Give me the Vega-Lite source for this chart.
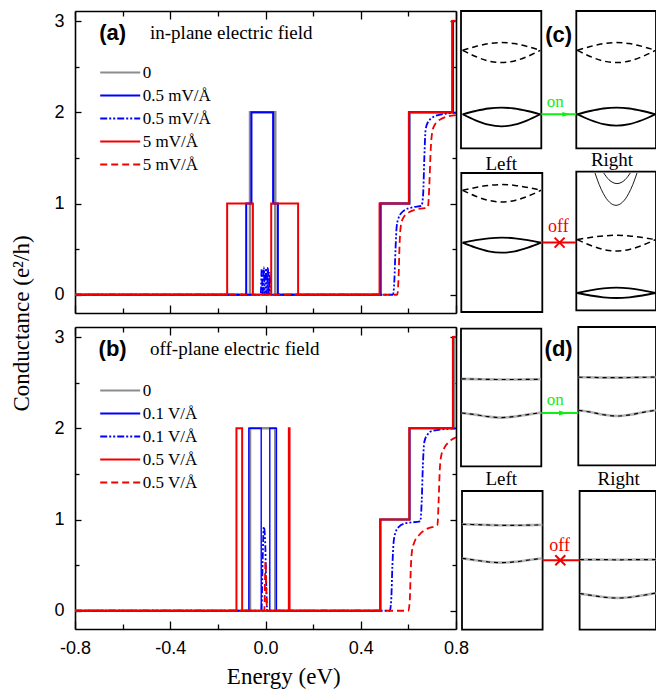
{
  "$schema": "https://vega.github.io/schema/vega-lite/v6.json",
  "background": "white",
  "padding": {"left": 10, "top": 10, "right": 0, "bottom": 0},
  "bounds": "flush",
  "columns": 2,
  "spacing": {"row": 14, "column": 5},
  "resolve": {"scale": {"color": "independent", "strokeDash": "independent"}, "legend": {"color": "independent", "strokeDash": "independent"}},
  "datasets": {
    "ga": [
      {"s":"a0","E":-0.8,"G":0},{"s":"a0","E":-0.065,"G":2},{"s":"a0","E":0.041,"G":0},{"s":"a0","E":0.483,"G":1},{"s":"a0","E":0.604,"G":2},{"s":"a0","E":0.787,"G":3},{"s":"a0","E":0.8,"G":3},
      {"s":"a1","E":-0.8,"G":0},{"s":"a1","E":-0.081,"G":1},{"s":"a1","E":-0.059,"G":2},{"s":"a1","E":0.032,"G":1},{"s":"a1","E":0.052,"G":0},{"s":"a1","E":0.483,"G":1},{"s":"a1","E":0.604,"G":2},{"s":"a1","E":0.787,"G":3},{"s":"a1","E":0.8,"G":3},
      {"s":"a2","E":-0.8,"G":0},{"s":"a2","E":-0.02,"G":0},{"s":"a2","E":-0.016,"G":0.28},{"s":"a2","E":-0.012,"G":0},{"s":"a2","E":-0.007,"G":0.3},{"s":"a2","E":-0.003,"G":0},{"s":"a2","E":0.002,"G":0.29},{"s":"a2","E":0.006,"G":0},{"s":"a2","E":0.01,"G":0.3},{"s":"a2","E":0.014,"G":0},{"s":"a2","E":0.018,"G":0.24},{"s":"a2","E":0.022,"G":0},{"s":"a2","E":0.535,"G":0},{"s":"a2","E":0.541,"G":0.15},{"s":"a2","E":0.546,"G":0.5},{"s":"a2","E":0.551,"G":0.75},{"s":"a2","E":0.56,"G":0.85},{"s":"a2","E":0.58,"G":0.92},{"s":"a2","E":0.62,"G":0.96},{"s":"a2","E":0.655,"G":0.975},{"s":"a2","E":0.662,"G":1.1},{"s":"a2","E":0.667,"G":1.5},{"s":"a2","E":0.672,"G":1.8},{"s":"a2","E":0.68,"G":1.88},{"s":"a2","E":0.7,"G":1.94},{"s":"a2","E":0.725,"G":1.97},{"s":"a2","E":0.8,"G":1.995},
      {"s":"a3","E":-0.8,"G":0},{"s":"a3","E":-0.161,"G":1},{"s":"a3","E":-0.053,"G":0},{"s":"a3","E":0.024,"G":1},{"s":"a3","E":0.137,"G":0},{"s":"a3","E":0.479,"G":1},{"s":"a3","E":0.602,"G":2},{"s":"a3","E":0.784,"G":3},{"s":"a3","E":0.8,"G":3},
      {"s":"a4","E":-0.8,"G":0},{"s":"a4","E":0.553,"G":0},{"s":"a4","E":0.559,"G":0.2},{"s":"a4","E":0.563,"G":0.55},{"s":"a4","E":0.568,"G":0.75},{"s":"a4","E":0.578,"G":0.84},{"s":"a4","E":0.6,"G":0.9},{"s":"a4","E":0.64,"G":0.94},{"s":"a4","E":0.682,"G":0.955},{"s":"a4","E":0.688,"G":1.2},{"s":"a4","E":0.694,"G":1.6},{"s":"a4","E":0.7,"G":1.78},{"s":"a4","E":0.71,"G":1.86},{"s":"a4","E":0.74,"G":1.93},{"s":"a4","E":0.8,"G":1.97}
    ],
    "gb": [
      {"s":"b0","E":-0.8,"G":0},{"s":"b0","E":-0.065,"G":2},{"s":"b0","E":0.041,"G":0},{"s":"b0","E":0.483,"G":1},{"s":"b0","E":0.604,"G":2},{"s":"b0","E":0.793,"G":3},{"s":"b0","E":0.8,"G":3},
      {"s":"b1","E":-0.8,"G":0},{"s":"b1","E":-0.07,"G":2},{"s":"b1","E":-0.018,"G":0},{"s":"b1","E":0.018,"G":2},{"s":"b1","E":0.046,"G":0},{"s":"b1","E":0.483,"G":1},{"s":"b1","E":0.606,"G":2},{"s":"b1","E":0.787,"G":3},{"s":"b1","E":0.8,"G":3},
      {"s":"b2","E":-0.8,"G":0},{"s":"b2","E":-0.017,"G":0},{"s":"b2","E":-0.012,"G":0.55},{"s":"b2","E":-0.007,"G":0.92},{"s":"b2","E":-0.002,"G":0.8},{"s":"b2","E":0.003,"G":0.3},{"s":"b2","E":0.007,"G":0},{"s":"b2","E":0.522,"G":0},{"s":"b2","E":0.528,"G":0.12},{"s":"b2","E":0.533,"G":0.5},{"s":"b2","E":0.538,"G":0.75},{"s":"b2","E":0.545,"G":0.85},{"s":"b2","E":0.56,"G":0.92},{"s":"b2","E":0.59,"G":0.96},{"s":"b2","E":0.65,"G":0.98},{"s":"b2","E":0.656,"G":1.2},{"s":"b2","E":0.661,"G":1.6},{"s":"b2","E":0.667,"G":1.85},{"s":"b2","E":0.68,"G":1.93},{"s":"b2","E":0.7,"G":1.97},{"s":"b2","E":0.8,"G":2.0},
      {"s":"b3","E":-0.8,"G":0},{"s":"b3","E":-0.122,"G":2},{"s":"b3","E":-0.098,"G":0},{"s":"b3","E":0.098,"G":2},{"s":"b3","E":0.101,"G":0},{"s":"b3","E":0.481,"G":1},{"s":"b3","E":0.604,"G":2},{"s":"b3","E":0.787,"G":3},{"s":"b3","E":0.8,"G":3},
      {"s":"b4","E":-0.8,"G":0},{"s":"b4","E":-0.005,"G":0},{"s":"b4","E":-0.002,"G":0.35},{"s":"b4","E":0.0,"G":0.54},{"s":"b4","E":0.003,"G":0.3},{"s":"b4","E":0.006,"G":0},{"s":"b4","E":0.6,"G":0},{"s":"b4","E":0.606,"G":0.12},{"s":"b4","E":0.61,"G":0.45},{"s":"b4","E":0.615,"G":0.65},{"s":"b4","E":0.625,"G":0.75},{"s":"b4","E":0.645,"G":0.83},{"s":"b4","E":0.68,"G":0.9},{"s":"b4","E":0.722,"G":0.94},{"s":"b4","E":0.727,"G":1.2},{"s":"b4","E":0.732,"G":1.55},{"s":"b4","E":0.738,"G":1.7},{"s":"b4","E":0.75,"G":1.78},{"s":"b4","E":0.77,"G":1.85},{"s":"b4","E":0.8,"G":1.9}
    ],
    "boxC": [
      {"x":0,"x2":80.3,"y":0,"y2":137.3},{"x":115.3,"x2":195,"y":0,"y2":137.3},
      {"x":0.3,"x2":81.3,"y":162,"y2":301},{"x":115.3,"x2":195,"y":160.6,"y2":299.3}
    ],
    "bandC": [
      {"c":"c1","k":"dashed","x":1.6,"y":39.3},{"c":"c1","k":"dashed","x":14.6,"y":35.5},{"c":"c1","k":"dashed","x":27.5,"y":32.6},{"c":"c1","k":"dashed","x":40.5,"y":31.6},{"c":"c1","k":"dashed","x":53.4,"y":32.6},{"c":"c1","k":"dashed","x":66.4,"y":35.5},{"c":"c1","k":"dashed","x":79.3,"y":39.3},
      {"c":"c2","k":"dashed","x":1.6,"y":39.3},{"c":"c2","k":"dashed","x":14.6,"y":45.5},{"c":"c2","k":"dashed","x":27.5,"y":50.0},{"c":"c2","k":"dashed","x":40.5,"y":51.6},{"c":"c2","k":"dashed","x":53.4,"y":50.0},{"c":"c2","k":"dashed","x":66.4,"y":45.5},{"c":"c2","k":"dashed","x":79.3,"y":39.3},
      {"c":"c3","k":"solid","x":1.6,"y":103.3},{"c":"c3","k":"solid","x":14.6,"y":100.0},{"c":"c3","k":"solid","x":27.5,"y":97.5},{"c":"c3","k":"solid","x":40.5,"y":96.6},{"c":"c3","k":"solid","x":53.4,"y":97.5},{"c":"c3","k":"solid","x":66.4,"y":100.0},{"c":"c3","k":"solid","x":79.3,"y":103.3},
      {"c":"c4","k":"solid","x":1.6,"y":103.3},{"c":"c4","k":"solid","x":14.6,"y":109.3},{"c":"c4","k":"solid","x":27.5,"y":113.7},{"c":"c4","k":"solid","x":40.5,"y":115.3},{"c":"c4","k":"solid","x":53.4,"y":113.7},{"c":"c4","k":"solid","x":66.4,"y":109.3},{"c":"c4","k":"solid","x":79.3,"y":103.3},
      {"c":"c5","k":"dashed","x":116.3,"y":39.3},{"c":"c5","k":"dashed","x":129.3,"y":35.5},{"c":"c5","k":"dashed","x":142.4,"y":32.6},{"c":"c5","k":"dashed","x":155.4,"y":31.6},{"c":"c5","k":"dashed","x":168.4,"y":32.6},{"c":"c5","k":"dashed","x":181.5,"y":35.5},{"c":"c5","k":"dashed","x":194.5,"y":39.3},
      {"c":"c6","k":"dashed","x":116.3,"y":39.3},{"c":"c6","k":"dashed","x":129.3,"y":45.5},{"c":"c6","k":"dashed","x":142.4,"y":50.0},{"c":"c6","k":"dashed","x":155.4,"y":51.6},{"c":"c6","k":"dashed","x":168.4,"y":50.0},{"c":"c6","k":"dashed","x":181.5,"y":45.5},{"c":"c6","k":"dashed","x":194.5,"y":39.3},
      {"c":"c7","k":"solid","x":116.3,"y":103.3},{"c":"c7","k":"solid","x":129.3,"y":100.0},{"c":"c7","k":"solid","x":142.4,"y":97.5},{"c":"c7","k":"solid","x":155.4,"y":96.6},{"c":"c7","k":"solid","x":168.4,"y":97.5},{"c":"c7","k":"solid","x":181.5,"y":100.0},{"c":"c7","k":"solid","x":194.5,"y":103.3},
      {"c":"c8","k":"solid","x":116.3,"y":103.3},{"c":"c8","k":"solid","x":129.3,"y":109.0},{"c":"c8","k":"solid","x":142.4,"y":113.1},{"c":"c8","k":"solid","x":155.4,"y":114.6},{"c":"c8","k":"solid","x":168.4,"y":113.1},{"c":"c8","k":"solid","x":181.5,"y":109.0},{"c":"c8","k":"solid","x":194.5,"y":103.3},
      {"c":"c9","k":"dashed","x":1.6,"y":179.3},{"c":"c9","k":"dashed","x":14.7,"y":176.5},{"c":"c9","k":"dashed","x":27.7,"y":174.4},{"c":"c9","k":"dashed","x":40.8,"y":173.6},{"c":"c9","k":"dashed","x":53.9,"y":174.4},{"c":"c9","k":"dashed","x":66.9,"y":176.5},{"c":"c9","k":"dashed","x":80.0,"y":179.3},
      {"c":"c10","k":"dashed","x":1.6,"y":179.3},{"c":"c10","k":"dashed","x":14.7,"y":185.2},{"c":"c10","k":"dashed","x":27.7,"y":189.4},{"c":"c10","k":"dashed","x":40.8,"y":191.0},{"c":"c10","k":"dashed","x":53.9,"y":189.4},{"c":"c10","k":"dashed","x":66.9,"y":185.2},{"c":"c10","k":"dashed","x":80.0,"y":179.3},
      {"c":"c11","k":"solid","x":1.6,"y":231.6},{"c":"c11","k":"solid","x":14.7,"y":229.1},{"c":"c11","k":"solid","x":27.7,"y":227.3},{"c":"c11","k":"solid","x":40.8,"y":226.6},{"c":"c11","k":"solid","x":53.9,"y":227.3},{"c":"c11","k":"solid","x":66.9,"y":229.1},{"c":"c11","k":"solid","x":80.0,"y":231.6},
      {"c":"c12","k":"solid","x":1.6,"y":231.6},{"c":"c12","k":"solid","x":14.7,"y":236.6},{"c":"c12","k":"solid","x":27.7,"y":240.3},{"c":"c12","k":"solid","x":40.8,"y":241.6},{"c":"c12","k":"solid","x":53.9,"y":240.3},{"c":"c12","k":"solid","x":66.9,"y":236.6},{"c":"c12","k":"solid","x":80.0,"y":231.6},
      {"c":"c13","k":"dashed","x":116.3,"y":228.6},{"c":"c13","k":"dashed","x":129.3,"y":226.5},{"c":"c13","k":"dashed","x":142.4,"y":224.9},{"c":"c13","k":"dashed","x":155.4,"y":224.3},{"c":"c13","k":"dashed","x":168.4,"y":224.9},{"c":"c13","k":"dashed","x":181.5,"y":226.5},{"c":"c13","k":"dashed","x":194.5,"y":228.6},
      {"c":"c14","k":"dashed","x":116.3,"y":228.6},{"c":"c14","k":"dashed","x":129.3,"y":234.3},{"c":"c14","k":"dashed","x":142.4,"y":238.5},{"c":"c14","k":"dashed","x":155.4,"y":240.0},{"c":"c14","k":"dashed","x":168.4,"y":238.5},{"c":"c14","k":"dashed","x":181.5,"y":234.3},{"c":"c14","k":"dashed","x":194.5,"y":228.6},
      {"c":"c15","k":"solid","x":116.3,"y":282.0},{"c":"c15","k":"solid","x":129.3,"y":279.3},{"c":"c15","k":"solid","x":142.4,"y":277.4},{"c":"c15","k":"solid","x":155.4,"y":276.7},{"c":"c15","k":"solid","x":168.4,"y":277.4},{"c":"c15","k":"solid","x":181.5,"y":279.3},{"c":"c15","k":"solid","x":194.5,"y":282.0},
      {"c":"c16","k":"solid","x":116.3,"y":282.0},{"c":"c16","k":"solid","x":129.3,"y":284.5},{"c":"c16","k":"solid","x":142.4,"y":286.3},{"c":"c16","k":"solid","x":155.4,"y":287.0},{"c":"c16","k":"solid","x":168.4,"y":286.3},{"c":"c16","k":"solid","x":181.5,"y":284.5},{"c":"c16","k":"solid","x":194.5,"y":282.0},
      {"c":"c17","k":"thin","x":134.0,"y":162.0},{"c":"c17","k":"thin","x":138.2,"y":173.6},{"c":"c17","k":"thin","x":142.4,"y":182.7},{"c":"c17","k":"thin","x":148.7,"y":191.4},{"c":"c17","k":"thin","x":155.0,"y":194.3},{"c":"c17","k":"thin","x":161.3,"y":191.4},{"c":"c17","k":"thin","x":167.6,"y":182.7},{"c":"c17","k":"thin","x":171.8,"y":173.6},{"c":"c17","k":"thin","x":176.0,"y":162.0},
      {"c":"c18","k":"thin","x":142.7,"y":162.0},{"c":"c18","k":"thin","x":145.4,"y":165.8},{"c":"c18","k":"thin","x":148.0,"y":168.8},{"c":"c18","k":"thin","x":152.0,"y":171.6},{"c":"c18","k":"thin","x":156.0,"y":172.6},{"c":"c18","k":"thin","x":160.0,"y":171.6},{"c":"c18","k":"thin","x":164.0,"y":168.8},{"c":"c18","k":"thin","x":166.6,"y":165.8},{"c":"c18","k":"thin","x":169.3,"y":162.0}
    ],
    "linkC": [
      {"t":"on","x":80.3,"x2":115.3,"y":103.3},
      {"t":"off","x":81.3,"x2":115.3,"y":231.6}
    ],
    "boxD": [
      {"x":0,"x2":80.3,"y":1.6,"y2":139.3},{"x":117.3,"x2":195,"y":0,"y2":138.3},
      {"x":1,"x2":81.6,"y":164,"y2":302.6},{"x":118.6,"x2":195,"y":164,"y2":302.6}
    ],
    "bandD": [
      {"c":"d1","x":0.7,"y":51.8},{"c":"d1","x":13.9,"y":52.1},{"c":"d1","x":27.1,"y":52.4},{"c":"d1","x":40.2,"y":52.5},{"c":"d1","x":53.4,"y":52.5},{"c":"d1","x":66.6,"y":52.4},{"c":"d1","x":79.6,"y":52.3},
      {"c":"d2","x":0.7,"y":86.0},{"c":"d2","x":13.9,"y":87.6},{"c":"d2","x":27.1,"y":89.6},{"c":"d2","x":40.2,"y":90.6},{"c":"d2","x":53.4,"y":89.6},{"c":"d2","x":66.6,"y":87.6},{"c":"d2","x":79.6,"y":85.6},
      {"c":"d3","x":117.6,"y":50.2},{"c":"d3","x":130.5,"y":50.4},{"c":"d3","x":143.3,"y":50.6},{"c":"d3","x":156.2,"y":50.6},{"c":"d3","x":169.0,"y":50.5},{"c":"d3","x":181.9,"y":50.3},{"c":"d3","x":194.7,"y":50.1},
      {"c":"d4","x":117.6,"y":83.3},{"c":"d4","x":130.5,"y":85.3},{"c":"d4","x":143.3,"y":87.8},{"c":"d4","x":156.2,"y":89.0},{"c":"d4","x":169.0,"y":87.8},{"c":"d4","x":181.9,"y":85.3},{"c":"d4","x":194.7,"y":83.3},
      {"c":"d5","x":1.3,"y":197.3},{"c":"d5","x":14.6,"y":197.6},{"c":"d5","x":28.0,"y":198.0},{"c":"d5","x":41.3,"y":198.3},{"c":"d5","x":54.6,"y":198.3},{"c":"d5","x":68.0,"y":198.1},{"c":"d5","x":81.3,"y":197.9},
      {"c":"d6","x":1.3,"y":231.3},{"c":"d6","x":14.6,"y":233.2},{"c":"d6","x":28.0,"y":235.0},{"c":"d6","x":41.3,"y":235.6},{"c":"d6","x":54.6,"y":234.8},{"c":"d6","x":68.0,"y":233.0},{"c":"d6","x":81.3,"y":231.3},
      {"c":"d7","x":118.9,"y":232.6},{"c":"d7","x":131.5,"y":232.6},{"c":"d7","x":144.2,"y":232.7},{"c":"d7","x":156.8,"y":232.8},{"c":"d7","x":169.4,"y":232.7},{"c":"d7","x":182.1,"y":232.6},{"c":"d7","x":194.7,"y":232.6},
      {"c":"d8","x":118.9,"y":266.6},{"c":"d8","x":131.5,"y":268.5},{"c":"d8","x":144.2,"y":270.3},{"c":"d8","x":156.8,"y":271.0},{"c":"d8","x":169.4,"y":270.2},{"c":"d8","x":182.1,"y":268.3},{"c":"d8","x":194.7,"y":266.0}
    ],
    "linkD": [
      {"t":"on","x":80.3,"x2":117.3,"y":86},
      {"t":"off","x":81.6,"x2":118.6,"y":233.3}
    ]
  },
  "concat": [
    {
      "width": 381,
      "height": 302,
      "data": {"name": "ga"},
      "encoding": {
        "x": {"field": "E", "type": "quantitative", "scale": {"domain": [-0.8, 0.8], "nice": false, "zero": false}, "axis": null},
        "y": {"field": "G", "type": "quantitative", "scale": {"domain": [-0.2, 3.11], "nice": false, "zero": false}, "axis": null},
        "color": {"field": "s", "type": "nominal",
          "scale": {"domain": ["a0","a1","a2","a3","a4"], "range": ["#8c8c8c","#0000ff","#0000ff","#f00000","#f00000"]},
          "legend": {"title": null, "orient": "none", "legendX": 36.7, "legendY": 53, "padding": 0, "symbolType": "M-4,0H4", "symbolSize": 100, "symbolStrokeWidth": 2, "labelFont": "Liberation Serif", "labelFontSize": 17, "labelColor": "black", "labelOffset": 14, "rowPadding": 5,
            "labelExpr": "datum.value == 'a0' ? '0' : (datum.value == 'a1' || datum.value == 'a2') ? '0.5 mV/Å' : '5 mV/Å'"}},
        "strokeDash": {"field": "s", "type": "nominal",
          "scale": {"domain": ["a0","a1","a2","a3","a4"], "range": [[1,0],[1,0],[7,2,2,2,2,2],[1,0],[7,4]]},
          "legend": {"title": null, "orient": "none", "legendX": 36.7, "legendY": 53, "padding": 0, "symbolType": "M-4,0H4", "symbolSize": 100, "symbolStrokeWidth": 2, "labelFont": "Liberation Serif", "labelFontSize": 17, "labelColor": "black", "labelOffset": 14, "rowPadding": 5,
            "labelExpr": "datum.value == 'a0' ? '0' : (datum.value == 'a1' || datum.value == 'a2') ? '0.5 mV/Å' : '5 mV/Å'"}}
      },
      "layer": [
        {
          "transform": [{"filter": "datum.s == 'a0'"}],
          "mark": {"type": "line", "interpolate": "step-after", "strokeWidth": 2.5},
          "encoding": {
            "x": {"field": "E", "type": "quantitative", "scale": {"domain": [-0.8, 0.8], "nice": false, "zero": false},
              "axis": {"orient": "bottom", "values": [-0.8, -0.4, 0, 0.4, 0.8], "tickSize": -8, "labels": false, "title": null, "domain": true}},
            "y": {"field": "G", "type": "quantitative", "scale": {"domain": [-0.2, 3.11], "nice": false, "zero": false},
              "axis": {"orient": "left", "values": [0, 1, 2, 3], "format": "d", "tickSize": -6, "labelPadding": 17, "labelFlush": false, "labelOverlap": false, "domain": true,
                "title": "Conductance (e²/h)", "titleX": -46.5, "titleY": 312, "titleAngle": 270, "titleAlign": "center", "titleBaseline": "alphabetic"}}
          }
        },
        {
          "transform": [{"filter": "datum.s == 'a1'"}],
          "mark": {"type": "line", "interpolate": "step-after", "strokeWidth": 2},
          "encoding": {
            "x": {"field": "E", "type": "quantitative", "scale": {"domain": [-0.8, 0.8], "nice": false, "zero": false},
              "axis": {"orient": "bottom", "values": [-0.6, -0.2, 0.2, 0.6], "tickSize": -5, "labels": false, "title": null, "domain": false}},
            "y": {"field": "G", "type": "quantitative", "scale": {"domain": [-0.2, 3.11], "nice": false, "zero": false},
              "axis": {"orient": "left", "values": [0.5, 1.5, 2.5], "tickSize": -4, "labels": false, "title": null, "domain": false}}
          }
        },
        {
          "transform": [{"filter": "datum.s == 'a2'"}],
          "mark": {"type": "line", "interpolate": "monotone", "strokeWidth": 1.8},
          "encoding": {
            "x": {"field": "E", "type": "quantitative", "scale": {"domain": [-0.8, 0.8], "nice": false, "zero": false},
              "axis": {"orient": "top", "values": [-0.8, -0.4, 0, 0.4, 0.8], "tickSize": -8, "labels": false, "title": null, "domain": true}},
            "y": {"field": "G", "type": "quantitative", "scale": {"domain": [-0.2, 3.11], "nice": false, "zero": false},
              "axis": {"orient": "right", "values": [0, 1, 2, 3], "tickSize": -6, "labels": false, "title": null, "domain": true}}
          }
        },
        {
          "transform": [{"filter": "datum.s == 'a3'"}],
          "mark": {"type": "line", "interpolate": "step-after", "strokeWidth": 2},
          "encoding": {
            "x": {"field": "E", "type": "quantitative", "scale": {"domain": [-0.8, 0.8], "nice": false, "zero": false},
              "axis": {"orient": "top", "values": [-0.6, -0.2, 0.2, 0.6], "tickSize": -5, "labels": false, "title": null, "domain": false}},
            "y": {"field": "G", "type": "quantitative", "scale": {"domain": [-0.2, 3.11], "nice": false, "zero": false},
              "axis": {"orient": "right", "values": [0.5, 1.5, 2.5], "tickSize": -4, "labels": false, "title": null, "domain": false}}
          }
        },
        {
          "transform": [{"filter": "datum.s == 'a4'"}],
          "mark": {"type": "line", "interpolate": "monotone", "strokeWidth": 1.8}
        },
        {
          "data": {"values": [{"E": -0.642, "G": 2.866, "t": "(a)"}]},
          "mark": {"type": "text", "font": "Liberation Sans", "fontWeight": "bold", "fontSize": 22, "align": "center", "baseline": "middle"},
          "encoding": {"text": {"field": "t"}, "color": {"value": "black"}, "strokeDash": {"value": [1, 0]}}
        },
        {
          "data": {"values": [{"E": -0.485, "G": 2.866, "t": "in-plane electric field"}]},
          "mark": {"type": "text", "font": "Liberation Serif", "fontSize": 19, "align": "left", "baseline": "middle"},
          "encoding": {"text": {"field": "t"}, "color": {"value": "black"}, "strokeDash": {"value": [1, 0]}}
        }
      ],
      "resolve": {"axis": {"x": "independent", "y": "independent"}}
    },
    {
      "width": 195,
      "height": 302,
      "encoding": {
        "x": {"field": "x", "type": "quantitative", "scale": {"domain": [0, 195], "nice": false, "zero": false}, "axis": null},
        "y": {"field": "y", "type": "quantitative", "scale": {"domain": [0, 302], "nice": false, "zero": false, "reverse": true}, "axis": null}
      },
      "layer": [
        {"data": {"name": "boxC"}, "mark": {"type": "rect", "filled": false, "color": "black", "stroke": "black", "strokeWidth": 1.8},
          "encoding": {"x2": {"field": "x2"}, "y2": {"field": "y2"}}},
        {"data": {"name": "bandC"}, "transform": [{"filter": "datum.k == 'dashed'"}],
          "mark": {"type": "line", "interpolate": "monotone", "color": "black", "strokeWidth": 1.5, "strokeDash": [6, 4]},
          "encoding": {"detail": {"field": "c"}}},
        {"data": {"name": "bandC"}, "transform": [{"filter": "datum.k == 'solid'"}],
          "mark": {"type": "line", "interpolate": "monotone", "color": "black", "strokeWidth": 1.8},
          "encoding": {"detail": {"field": "c"}}},
        {"data": {"name": "bandC"}, "transform": [{"filter": "datum.k == 'thin'"}],
          "mark": {"type": "line", "interpolate": "monotone", "color": "black", "strokeWidth": 0.9},
          "encoding": {"detail": {"field": "c"}}},
        {"data": {"name": "linkC"}, "transform": [{"filter": "datum.t == 'on'"}],
          "mark": {"type": "rule", "color": "#11ee11", "strokeWidth": 2},
          "encoding": {"x2": {"field": "x2"}}},
        {"data": {"name": "linkC"}, "transform": [{"filter": "datum.t == 'off'"}],
          "mark": {"type": "rule", "color": "#f00000", "strokeWidth": 2},
          "encoding": {"x2": {"field": "x2"}}},
        {"data": {"values": [{"x": 105.3, "y": 103.3}]},
          "mark": {"type": "point", "shape": "M-1,-0.6L1,0L-1,0.6Z", "filled": true, "color": "#11ee11", "size": 64, "opacity": 1},
          "encoding": {}},
        {"data": {"values": [{"x": 98.6, "y": 231.6}]},
          "mark": {"type": "point", "shape": "M-1,-1L1,1M-1,1L1,-1", "filled": false, "color": "#f00000", "strokeWidth": 2, "size": 100, "opacity": 1},
          "encoding": {}},
        {"data": {"values": [{"x": 97.6, "y": 24.3, "t": "(c)"}]},
          "mark": {"type": "text", "font": "Liberation Sans", "fontWeight": "bold", "fontSize": 22, "align": "center", "baseline": "middle", "color": "black"},
          "encoding": {"text": {"field": "t"}}},
        {"data": {"values": [{"x": 94.3, "y": 91, "t": "on"}]},
          "mark": {"type": "text", "font": "Liberation Serif", "fontSize": 17, "align": "center", "baseline": "middle", "color": "#11ee11"},
          "encoding": {"text": {"field": "t"}}},
        {"data": {"values": [{"x": 97.3, "y": 216, "t": "off"}]},
          "mark": {"type": "text", "font": "Liberation Serif", "fontSize": 18, "align": "center", "baseline": "middle", "color": "#f00000"},
          "encoding": {"text": {"field": "t"}}},
        {"data": {"values": [{"x": 40.3, "y": 152.6, "t": "Left"}, {"x": 151, "y": 149.3, "t": "Right"}]},
          "mark": {"type": "text", "font": "Liberation Serif", "fontSize": 19, "align": "center", "baseline": "middle", "color": "black"},
          "encoding": {"text": {"field": "t"}}}
      ]
    },
    {
      "width": 381,
      "height": 302,
      "data": {"name": "gb"},
      "encoding": {
        "x": {"field": "E", "type": "quantitative", "scale": {"domain": [-0.8, 0.8], "nice": false, "zero": false}, "axis": null},
        "y": {"field": "G", "type": "quantitative", "scale": {"domain": [-0.2, 3.11], "nice": false, "zero": false}, "axis": null},
        "color": {"field": "s", "type": "nominal",
          "scale": {"domain": ["b0","b1","b2","b3","b4"], "range": ["#8c8c8c","#0000ff","#0000ff","#f00000","#f00000"]},
          "legend": {"title": null, "orient": "none", "legendX": 36.7, "legendY": 55, "padding": 0, "symbolType": "M-4,0H4", "symbolSize": 100, "symbolStrokeWidth": 2, "labelFont": "Liberation Serif", "labelFontSize": 17, "labelColor": "black", "labelOffset": 14, "rowPadding": 5,
            "labelExpr": "datum.value == 'b0' ? '0' : (datum.value == 'b1' || datum.value == 'b2') ? '0.1 V/Å' : '0.5 V/Å'"}},
        "strokeDash": {"field": "s", "type": "nominal",
          "scale": {"domain": ["b0","b1","b2","b3","b4"], "range": [[1,0],[1,0],[7,2,2,2,2,2],[1,0],[7,4]]},
          "legend": {"title": null, "orient": "none", "legendX": 36.7, "legendY": 55, "padding": 0, "symbolType": "M-4,0H4", "symbolSize": 100, "symbolStrokeWidth": 2, "labelFont": "Liberation Serif", "labelFontSize": 17, "labelColor": "black", "labelOffset": 14, "rowPadding": 5,
            "labelExpr": "datum.value == 'b0' ? '0' : (datum.value == 'b1' || datum.value == 'b2') ? '0.1 V/Å' : '0.5 V/Å'"}}
      },
      "layer": [
        {
          "transform": [{"filter": "datum.s == 'b0'"}],
          "mark": {"type": "line", "interpolate": "step-after", "strokeWidth": 2.5},
          "encoding": {
            "x": {"field": "E", "type": "quantitative", "scale": {"domain": [-0.8, 0.8], "nice": false, "zero": false},
              "axis": {"orient": "bottom", "values": [-0.8, -0.4, 0, 0.4, 0.8], "format": ".1f", "labelExpr": "replace(datum.label, '\u2212', '-')", "tickSize": -8, "labelPadding": 18, "labelFlush": false, "labelOverlap": false, "domain": true,
                "title": "Energy (eV)", "titleX": 208.3, "titleY": 54.3, "titleAlign": "center", "titleBaseline": "alphabetic"}},
            "y": {"field": "G", "type": "quantitative", "scale": {"domain": [-0.2, 3.11], "nice": false, "zero": false},
              "axis": {"orient": "left", "values": [0, 1, 2, 3], "format": "d", "tickSize": -6, "labelPadding": 17, "labelFlush": false, "labelOverlap": false, "domain": true, "title": null}}
          }
        },
        {
          "transform": [{"filter": "datum.s == 'b1'"}],
          "mark": {"type": "line", "interpolate": "step-after", "strokeWidth": 1.4},
          "encoding": {
            "x": {"field": "E", "type": "quantitative", "scale": {"domain": [-0.8, 0.8], "nice": false, "zero": false},
              "axis": {"orient": "bottom", "values": [-0.6, -0.2, 0.2, 0.6], "tickSize": -5, "labels": false, "title": null, "domain": false}},
            "y": {"field": "G", "type": "quantitative", "scale": {"domain": [-0.2, 3.11], "nice": false, "zero": false},
              "axis": {"orient": "left", "values": [0.5, 1.5, 2.5], "tickSize": -4, "labels": false, "title": null, "domain": false}}
          }
        },
        {
          "transform": [{"filter": "datum.s == 'b2'"}],
          "mark": {"type": "line", "interpolate": "monotone", "strokeWidth": 1.8},
          "encoding": {
            "x": {"field": "E", "type": "quantitative", "scale": {"domain": [-0.8, 0.8], "nice": false, "zero": false},
              "axis": {"orient": "top", "values": [-0.8, -0.4, 0, 0.4, 0.8], "tickSize": -8, "labels": false, "title": null, "domain": true}},
            "y": {"field": "G", "type": "quantitative", "scale": {"domain": [-0.2, 3.11], "nice": false, "zero": false},
              "axis": {"orient": "right", "values": [0, 1, 2, 3], "tickSize": -6, "labels": false, "title": null, "domain": true}}
          }
        },
        {
          "transform": [{"filter": "datum.s == 'b3'"}],
          "mark": {"type": "line", "interpolate": "step-after", "strokeWidth": 2},
          "encoding": {
            "x": {"field": "E", "type": "quantitative", "scale": {"domain": [-0.8, 0.8], "nice": false, "zero": false},
              "axis": {"orient": "top", "values": [-0.6, -0.2, 0.2, 0.6], "tickSize": -5, "labels": false, "title": null, "domain": false}},
            "y": {"field": "G", "type": "quantitative", "scale": {"domain": [-0.2, 3.11], "nice": false, "zero": false},
              "axis": {"orient": "right", "values": [0.5, 1.5, 2.5], "tickSize": -4, "labels": false, "title": null, "domain": false}}
          }
        },
        {
          "transform": [{"filter": "datum.s == 'b4'"}],
          "mark": {"type": "line", "interpolate": "monotone", "strokeWidth": 1.8}
        },
        {
          "data": {"values": [{"E": -0.642, "G": 2.871, "t": "(b)"}]},
          "mark": {"type": "text", "font": "Liberation Sans", "fontWeight": "bold", "fontSize": 22, "align": "center", "baseline": "middle"},
          "encoding": {"text": {"field": "t"}, "color": {"value": "black"}, "strokeDash": {"value": [1, 0]}}
        },
        {
          "data": {"values": [{"E": -0.485, "G": 2.871, "t": "off-plane electric field"}]},
          "mark": {"type": "text", "font": "Liberation Serif", "fontSize": 19, "align": "left", "baseline": "middle"},
          "encoding": {"text": {"field": "t"}, "color": {"value": "black"}, "strokeDash": {"value": [1, 0]}}
        }
      ],
      "resolve": {"axis": {"x": "independent", "y": "independent"}}
    },
    {
      "width": 195,
      "height": 303,
      "encoding": {
        "x": {"field": "x", "type": "quantitative", "scale": {"domain": [0, 195], "nice": false, "zero": false}, "axis": null},
        "y": {"field": "y", "type": "quantitative", "scale": {"domain": [0, 303], "nice": false, "zero": false, "reverse": true}, "axis": null}
      },
      "layer": [
        {"data": {"name": "boxD"}, "mark": {"type": "rect", "filled": false, "color": "black", "stroke": "black", "strokeWidth": 1.8},
          "encoding": {"x2": {"field": "x2"}, "y2": {"field": "y2"}}},
        {"data": {"name": "bandD"},
          "mark": {"type": "line", "interpolate": "monotone", "color": "#b4b4b4", "strokeWidth": 2.6},
          "encoding": {"detail": {"field": "c"}}},
        {"data": {"name": "bandD"},
          "mark": {"type": "line", "interpolate": "monotone", "color": "black", "strokeWidth": 1.2, "strokeDash": [4, 4]},
          "encoding": {"detail": {"field": "c"}}},
        {"data": {"name": "linkD"}, "transform": [{"filter": "datum.t == 'on'"}],
          "mark": {"type": "rule", "color": "#11ee11", "strokeWidth": 2},
          "encoding": {"x2": {"field": "x2"}}},
        {"data": {"name": "linkD"}, "transform": [{"filter": "datum.t == 'off'"}],
          "mark": {"type": "rule", "color": "#f00000", "strokeWidth": 2},
          "encoding": {"x2": {"field": "x2"}}},
        {"data": {"values": [{"x": 102, "y": 86}]},
          "mark": {"type": "point", "shape": "M-1,-0.6L1,0L-1,0.6Z", "filled": true, "color": "#11ee11", "size": 64, "opacity": 1},
          "encoding": {}},
        {"data": {"values": [{"x": 99.3, "y": 233.3}]},
          "mark": {"type": "point", "shape": "M-1,-1L1,1M-1,1L1,-1", "filled": false, "color": "#f00000", "strokeWidth": 2, "size": 100, "opacity": 1},
          "encoding": {}},
        {"data": {"values": [{"x": 97.6, "y": 21.6, "t": "(d)"}]},
          "mark": {"type": "text", "font": "Liberation Sans", "fontWeight": "bold", "fontSize": 22, "align": "center", "baseline": "middle", "color": "black"},
          "encoding": {"text": {"field": "t"}}},
        {"data": {"values": [{"x": 94.3, "y": 73.3, "t": "on"}]},
          "mark": {"type": "text", "font": "Liberation Serif", "fontSize": 17, "align": "center", "baseline": "middle", "color": "#11ee11"},
          "encoding": {"text": {"field": "t"}}},
        {"data": {"values": [{"x": 98.6, "y": 219.3, "t": "off"}]},
          "mark": {"type": "text", "font": "Liberation Serif", "fontSize": 18, "align": "center", "baseline": "middle", "color": "#f00000"},
          "encoding": {"text": {"field": "t"}}},
        {"data": {"values": [{"x": 40.3, "y": 151.6, "t": "Left"}, {"x": 157.6, "y": 151.6, "t": "Right"}]},
          "mark": {"type": "text", "font": "Liberation Serif", "fontSize": 19, "align": "center", "baseline": "middle", "color": "black"},
          "encoding": {"text": {"field": "t"}}}
      ]
    }
  ],
  "config": {
    "view": {"stroke": null},
    "axis": {"grid": false, "labelColor": "black", "tickColor": "black", "domainColor": "black", "labelFont": "Liberation Sans", "labelFontSize": 18, "titleFont": "Liberation Serif", "titleFontSize": 23, "titleFontWeight": "normal", "titleColor": "black", "tickWidth": 1.3, "domainWidth": 1.6}
  }
}
